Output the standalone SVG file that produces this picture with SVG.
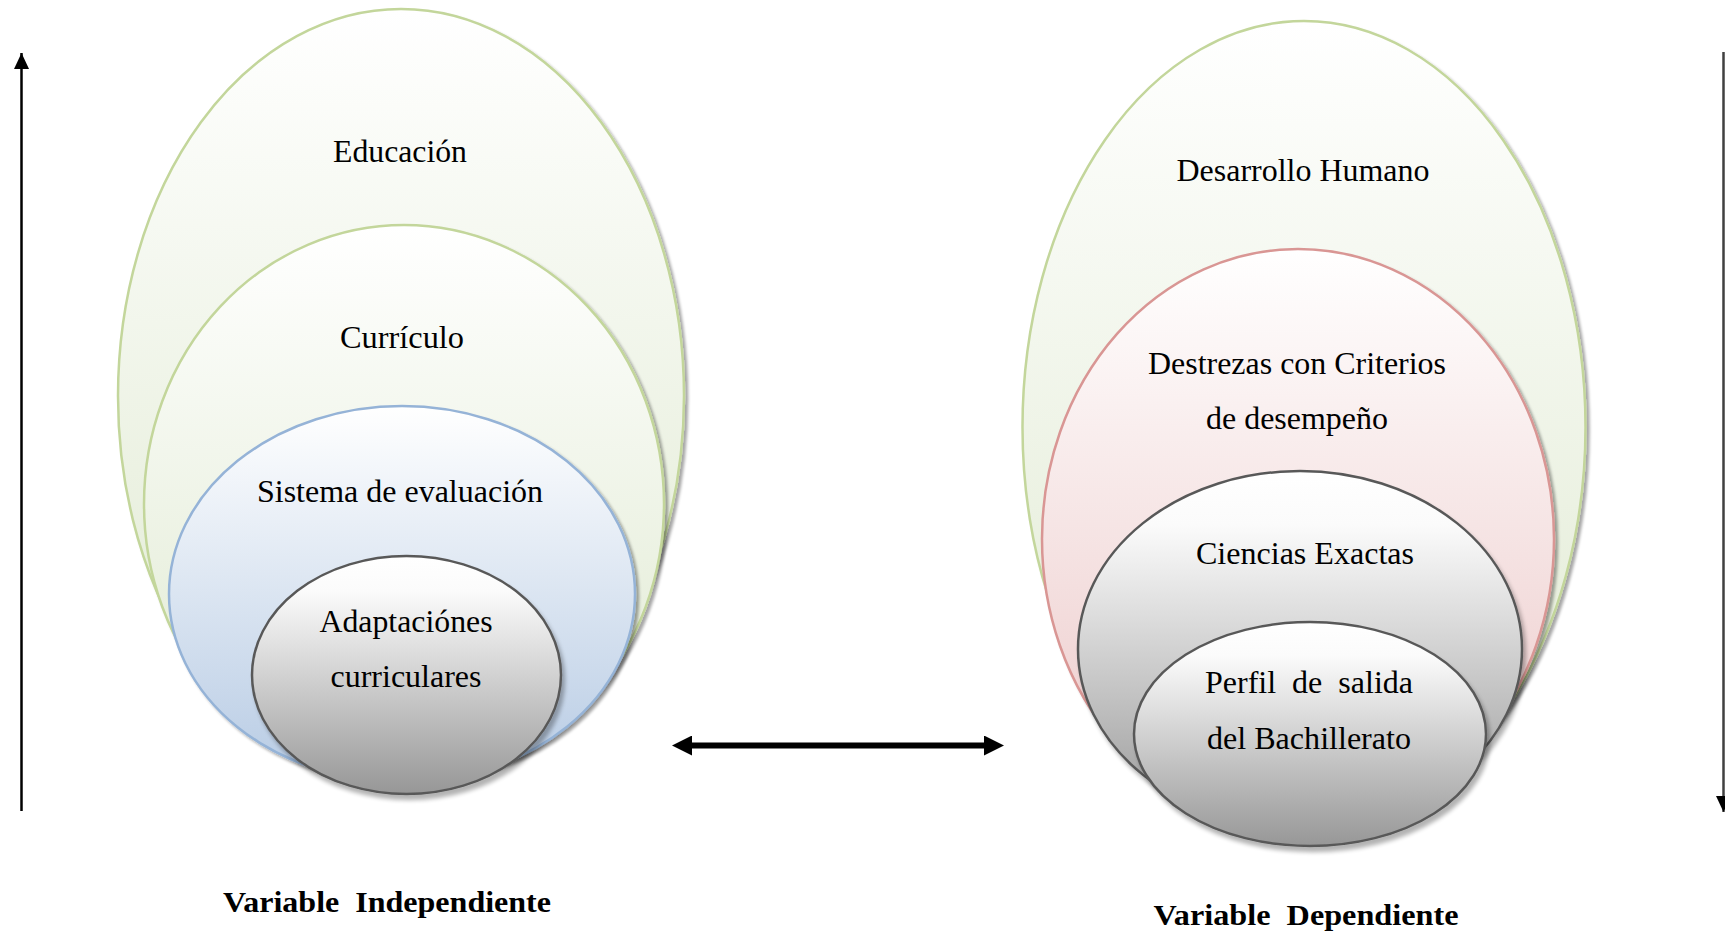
<svg xmlns="http://www.w3.org/2000/svg" width="1725" height="934" viewBox="0 0 1725 934">
<style>
  .lbl { font-family: "Liberation Serif", "Times New Roman", serif; font-size: 32px; fill: #000; text-anchor: middle; white-space: pre; }
  .var { font-family: "Liberation Serif", "Times New Roman", serif; font-size: 30px; font-weight: bold; fill: #000; text-anchor: middle; white-space: pre; }
  .green { fill: url(#gGreen); stroke: #c3d69b; stroke-width: 2.5; filter: url(#shadow); }
  .blue { fill: url(#gBlue); stroke: #95b3d7; stroke-width: 2.5; filter: url(#shadow); }
  .red { fill: url(#gRed); stroke: #d99694; stroke-width: 2.5; filter: url(#shadow); }
  .grey { fill: url(#gGrey); stroke: #595959; stroke-width: 2.5; filter: url(#shadow2); }
</style>
<defs>
  <linearGradient id="gGreen" x1="0" y1="0" x2="0" y2="1">
    <stop offset="0" stop-color="#ffffff"/>
    <stop offset="1" stop-color="#dfe9d0"/>
  </linearGradient>
  <linearGradient id="gBlue" x1="0" y1="0" x2="0" y2="1">
    <stop offset="0" stop-color="#ffffff"/>
    <stop offset="1" stop-color="#b7cbe4"/>
  </linearGradient>
  <linearGradient id="gRed" x1="0" y1="0" x2="0" y2="1">
    <stop offset="0" stop-color="#ffffff"/>
    <stop offset="1" stop-color="#ecc8c8"/>
  </linearGradient>
  <linearGradient id="gGrey" x1="0" y1="0" x2="0" y2="1">
    <stop offset="0" stop-color="#ffffff"/>
    <stop offset="0.15" stop-color="#fbfbfb"/>
    <stop offset="1" stop-color="#979797"/>
  </linearGradient>
  <filter id="shadow" x="-10%" y="-10%" width="120%" height="120%">
    <feGaussianBlur in="SourceAlpha" stdDeviation="1.5"/>
    <feOffset dx="3" dy="3" result="b"/>
    <feComponentTransfer><feFuncA type="linear" slope="0.35"/></feComponentTransfer>
    <feMerge><feMergeNode/><feMergeNode in="SourceGraphic"/></feMerge>
  </filter>
  <filter id="shadow2" x="-10%" y="-10%" width="120%" height="120%">
    <feGaussianBlur in="SourceAlpha" stdDeviation="2"/>
    <feOffset dx="3" dy="5" result="b"/>
    <feComponentTransfer><feFuncA type="linear" slope="0.3"/></feComponentTransfer>
    <feMerge><feMergeNode/><feMergeNode in="SourceGraphic"/></feMerge>
  </filter>
  <marker id="small" viewBox="0 0 10 10" refX="10" refY="5" markerWidth="16" markerHeight="15" markerUnits="userSpaceOnUse" orient="auto-start-reverse" preserveAspectRatio="none">
    <path d="M0,0 L10,5 L0,10 Z" fill="#000"/>
  </marker>
  <marker id="head" viewBox="0 0 20 20" refX="10" refY="10" markerWidth="20" markerHeight="20" markerUnits="userSpaceOnUse" orient="auto-start-reverse">
    <path d="M0,0 L20,10 L0,20 Z" fill="#000"/>
  </marker>
</defs>
<rect x="0" y="0" width="1725" height="934" fill="#ffffff"/>

<g id="educacion">
  <ellipse class="green" cx="401" cy="396" rx="283" ry="387"/>
  <text class="lbl" x="400" y="162" textLength="134" lengthAdjust="spacingAndGlyphs">Educación</text>
</g>
<g id="curriculo">
  <ellipse class="green" cx="404" cy="504" rx="260" ry="279"/>
  <text class="lbl" x="402" y="348" textLength="124" lengthAdjust="spacingAndGlyphs">Currículo</text>
</g>
<g id="sistema">
  <ellipse class="blue" cx="402" cy="594" rx="233" ry="188"/>
  <text class="lbl" x="400" y="502" textLength="286" lengthAdjust="spacingAndGlyphs">Sistema de evaluación</text>
</g>
<g id="adaptaciones">
  <ellipse class="grey" cx="406.5" cy="675" rx="154.5" ry="119"/>
  <text class="lbl" x="406" y="632" textLength="173" lengthAdjust="spacingAndGlyphs">Adaptaciónes</text>
  <text class="lbl" x="406" y="687" textLength="151" lengthAdjust="spacingAndGlyphs">curriculares</text>
</g>

<g id="desarrollo">
  <ellipse class="green" cx="1304" cy="427" rx="281.5" ry="406"/>
  <text class="lbl" x="1303" y="181" textLength="253" lengthAdjust="spacingAndGlyphs">Desarrollo Humano</text>
</g>
<g id="destrezas">
  <ellipse class="red" cx="1298" cy="539" rx="256" ry="290"/>
  <text class="lbl" x="1297" y="374" textLength="298" lengthAdjust="spacingAndGlyphs">Destrezas con Criterios</text>
  <text class="lbl" x="1297" y="429" textLength="182" lengthAdjust="spacingAndGlyphs">de desempeño</text>
</g>
<g id="ciencias">
  <ellipse class="grey" cx="1300" cy="649" rx="222" ry="178"/>
  <text class="lbl" x="1305" y="564" textLength="218" lengthAdjust="spacingAndGlyphs">Ciencias Exactas</text>
</g>
<g id="perfil">
  <ellipse class="grey" cx="1310" cy="734" rx="176" ry="112"/>
  <text class="lbl" x="1309" y="693" textLength="208" lengthAdjust="spacingAndGlyphs" xml:space="preserve">Perfil  de  salida</text>
  <text class="lbl" x="1309" y="749" textLength="204" lengthAdjust="spacingAndGlyphs">del Bachillerato</text>
</g>

<g id="connectors">
  <line x1="21.5" y1="811" x2="21.5" y2="53" stroke="#000" stroke-width="2.5" marker-end="url(#small)"/>
  <line x1="1723.5" y1="52" x2="1723.5" y2="812" stroke="#404040" stroke-width="2.5" marker-end="url(#small)"/>
  <line x1="682" y1="745.5" x2="994" y2="745.5" stroke="#000" stroke-width="6" marker-start="url(#head)" marker-end="url(#head)"/>
</g>

<g id="labels">
  <text class="var" x="387" y="912" textLength="328" lengthAdjust="spacingAndGlyphs" xml:space="preserve">Variable  Independiente</text>
  <text class="var" x="1306" y="925" textLength="305" lengthAdjust="spacingAndGlyphs" xml:space="preserve">Variable  Dependiente</text>
</g>
</svg>
